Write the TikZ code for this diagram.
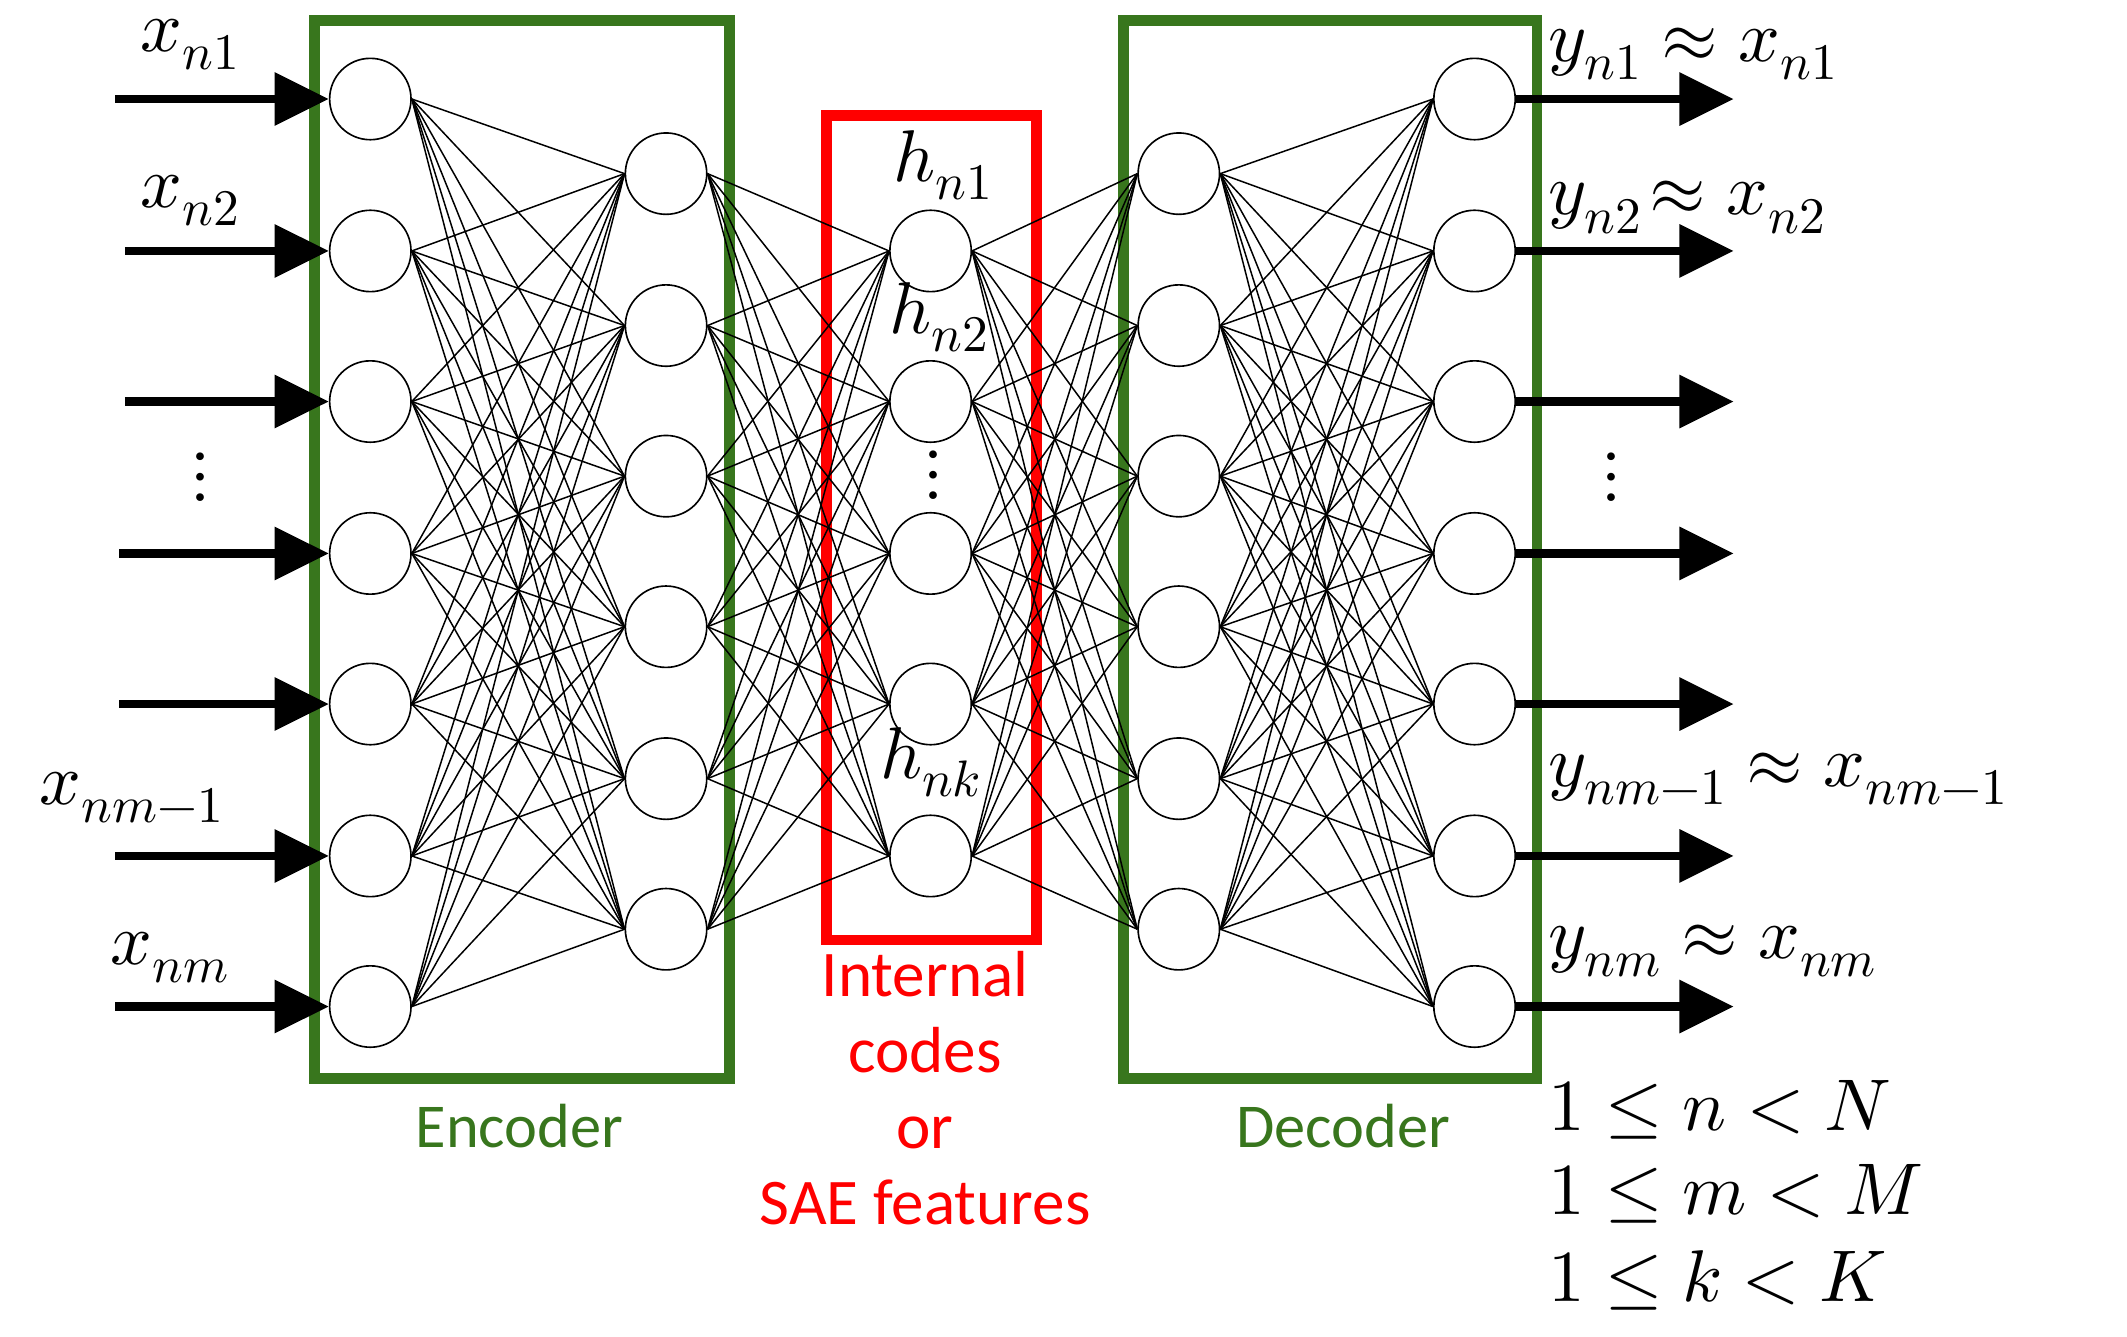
\documentclass[tikz,border=0pt]{standalone}
\usepackage{fontspec}
\usepackage{unicode-math}
\setmainfont{Carlito}
\setmathfont{Latin Modern Math}
\usetikzlibrary{arrows.meta}
\begin{document}
\begin{tikzpicture}[x=1pt,y=-1pt,
  neuron/.style={circle,draw,line width=1.2pt,minimum size=60pt,inner sep=0pt,fill=white},
  conn/.style={line width=1.1pt},
  io/.style={line width=6pt,-{Triangle[length=40pt,width=38pt]}},
  gbox/.style={draw={rgb,255:red,56;green,118;blue,29},line width=8pt},
  rbox/.style={draw=red,line width=8pt},
  lab/.style={font=\fontsize{54}{54}\selectfont},
  gtxt/.style={text={rgb,255:red,56;green,118;blue,29},font=\fontsize{46}{46}\selectfont},
  rtxt/.style={text=red,font=\fontsize{48}{56}\selectfont,align=center}]
\useasboundingbox (0,0) rectangle (1568,985);
\node[gbox,minimum width=306pt,minimum height=780pt,inner sep=0pt] (enc) at (385,405) {};
\node[gbox,minimum width=305pt,minimum height=780pt,inner sep=0pt] (dec) at (980.5,405) {};
\node[rbox,minimum width=155pt,minimum height=608pt,inner sep=0pt] (code) at (686.5,389) {};
\foreach \i/\y in {1/73,2/185,3/296,4/408,5/519,6/631,7/742}{
  \node[neuron] (a\i) at (273,\y) {};
  \node[neuron] (e\i) at (1087,\y) {};}
\foreach \i/\y in {1/128,2/240,3/351,4/462,5/574,6/685}{
  \node[neuron] (b\i) at (491,\y) {};
  \node[neuron] (d\i) at (869,\y) {};}
\foreach \i/\y in {1/185,2/296,3/408,4/519,5/631}{
  \node[neuron] (c\i) at (686,\y) {};}
\foreach \i in {1,...,7}{\foreach \j in {1,...,6}{
  \draw[conn] (a\i.east) -- (b\j.west);
  \draw[conn] (d\j.east) -- (e\i.west);}}
\foreach \i in {1,...,6}{\foreach \j in {1,...,5}{
  \draw[conn] (b\i.east) -- (c\j.west);
  \draw[conn] (c\j.east) -- (d\i.west);}}
\foreach \i/\y/\xs in {1/73/85,2/185/92,3/296/92,4/408/88,5/519/88,6/631/85,7/742/85}{
  \coordinate (in\i) at (\xs,\y);
  \coordinate (out\i) at (1278,\y);
  \draw[io] (in\i) -- (a\i.west);
  \draw[io] (e\i.east) -- (out\i);}
\node[lab] (lx1) at (140,33) {$x_{n1}$};
\node[lab] (lx2) at (140,148) {$x_{n2}$};
\node[lab] (ld1) at (148,352) {$\vdots$};
\node[lab] (lx3) at (97,588) {$x_{nm-1}$};
\node[lab] (lx4) at (125,706) {$x_{nm}$};
\node[lab,anchor=west] (ly1) at (1138,40) {$y_{n1}\approx x_{n1}$};
\node[lab,anchor=west] (ly2) at (1138,153) {$y_{n2}\!\approx x_{n2}$};
\node[lab] (ld2) at (1188,352) {$\vdots$};
\node[lab,anchor=west] (ly3) at (1138,574) {$y_{nm-1}\approx x_{nm-1}$};
\node[lab,anchor=west] (ly4) at (1138,701) {$y_{nm}\approx x_{nm}$};
\node[lab] (h1) at (695,122) {$h_{n1}$};
\node[lab] (h2) at (692,234) {$h_{n2}$};
\node[lab] (hd) at (688,350) {$\vdots$};
\node[lab] (hk) at (686,562) {$h_{nk}$};
\node[lab,anchor=west] (c1) at (1138,818) {$1\le n<N$};
\node[lab,anchor=west] (c2) at (1138,880) {$1\le m<M$};
\node[lab,anchor=west] (c3) at (1138,944) {$1\le k<K$};
\node[gtxt] (tenc) at (383,830) {Encoder};
\node[gtxt] (tdec) at (990,830) {Decoder};
\node[rtxt,anchor=north] (tcode) at (682,698) {Internal\\codes\\or\\SAE features};
\end{tikzpicture}
\end{document}
